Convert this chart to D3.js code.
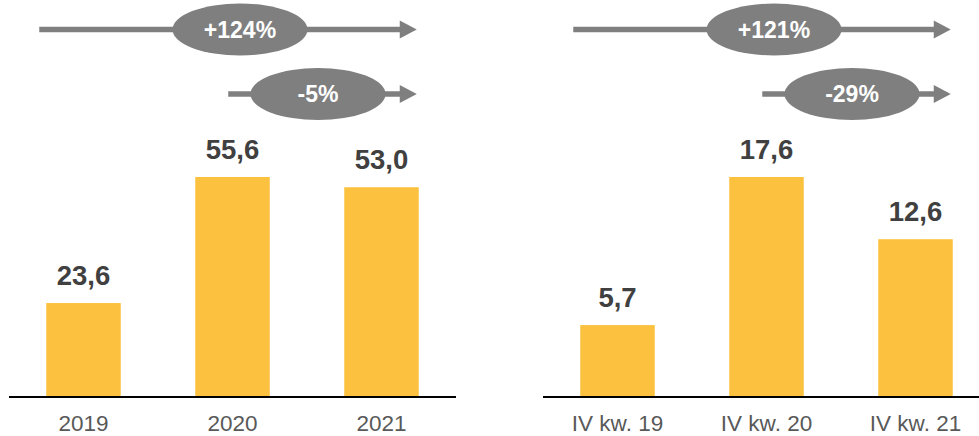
<!DOCTYPE html>
<html>
<head>
<meta charset="utf-8">
<script src="https://cdn.jsdelivr.net/npm/d3@7"></script>
<style>
  html, body { margin: 0; padding: 0; background: #fff; }
  svg { display: block; font-family: Arial, "Liberation Sans", sans-serif; }
</style>
</head>
<body>
<svg id="chart" width="979" height="436"></svg>
<script>
// Annual values (left panel)
const yearCategories = ["2019", "2020", "2021"];
const yearValues = [23.6, 55.6, 53.0];
const yearChanges = ["+124%", "-5%"];

// Fourth-quarter values (right panel)
const quarterCategories = ["IV kw. 19", "IV kw. 20", "IV kw. 21"];
const quarterValues = [5.7, 17.6, 12.6];
const quarterChanges = ["+121%", "-29%"];

const svg = d3.select("#chart");
const baseline = 396;
const topY = 177;
const barColor = "#FCC13E";
const arrowColor = "#7F7F7F";
const fmt = v => v.toFixed(1).replace(".", ",");

function drawPanel(categories, values, changes, x0, x1, axisEnd) {
  const g = svg.append("g");
  const x = d3.scaleBand().domain(categories).range([x0, x1])
    .paddingInner(0.5).paddingOuter(0.25);
  const y = d3.scaleLinear().domain([0, d3.max(values)]).range([baseline, topY]);

  const data = categories.map((c, i) => ({ c, v: values[i] }));

  g.selectAll("rect.bar").data(data).join("rect")
    .attr("class", "bar")
    .attr("x", d => x(d.c))
    .attr("width", x.bandwidth())
    .attr("y", d => y(d.v))
    .attr("height", d => baseline - y(d.v))
    .attr("fill", barColor);

  g.selectAll("text.val").data(data).join("text")
    .attr("class", "val")
    .attr("x", d => x(d.c) + x.bandwidth() / 2)
    .attr("y", d => y(d.v) - 18.5)
    .attr("text-anchor", "middle")
    .attr("font-size", 27.5)
    .attr("font-weight", "bold")
    .attr("fill", "#404040")
    .text(d => fmt(d.v));

  // Baseline axis with category labels
  const axis = g.append("g").attr("transform", `translate(0,${baseline})`)
    .call(d3.axisBottom(x).tickSize(0).tickPadding(0));
  axis.select(".domain").remove();
  axis.selectAll("text")
    .attr("y", 34.5)
    .attr("dy", 0)
    .attr("font-size", 22.5)
    .attr("font-family", "Arial, 'Liberation Sans', sans-serif")
    .attr("fill", "#595959");
  g.append("line")
    .attr("x1", x0).attr("x2", axisEnd)
    .attr("y1", baseline + 1).attr("y2", baseline + 1)
    .attr("stroke", "#000").attr("stroke-width", 2);

  // Growth arrows with oval badges
  const bw = x.bandwidth();
  const c = categories;
  const arrows = [
    { start: x(c[0]) - 7, end: x(c[2]) + bw - 2, cx: x(c[1]) + bw / 2 + 7.5, cy: 29.5, label: changes[0] },
    { start: x(c[1]) + 33, end: x(c[2]) + bw - 2,
      cx: (x(c[1]) + x(c[2])) / 2 + bw / 2 + 11, cy: 94, label: changes[1] }
  ];
  arrows.forEach(a => {
    const ag = g.append("g");
    ag.append("line")
      .attr("x1", a.start).attr("x2", a.end - 16)
      .attr("y1", a.cy).attr("y2", a.cy)
      .attr("stroke", arrowColor).attr("stroke-width", 5.5);
    ag.append("path")
      .attr("d", `M${a.end - 17},${a.cy - 9}L${a.end},${a.cy}L${a.end - 17},${a.cy + 9}Z`)
      .attr("fill", arrowColor);
    ag.append("ellipse")
      .attr("cx", a.cx).attr("cy", a.cy)
      .attr("rx", 67.5).attr("ry", 26)
      .attr("fill", arrowColor);
    ag.append("text")
      .attr("x", a.cx).attr("y", a.cy + 8)
      .attr("text-anchor", "middle")
      .attr("font-size", 23)
      .attr("font-weight", "bold")
      .attr("fill", "#fff")
      .text(a.label);
  });
}

drawPanel(yearCategories, yearValues, yearChanges, 9, 456, 456);
drawPanel(quarterCategories, quarterValues, quarterChanges, 543, 990, 979);
</script>
</body>
</html>
